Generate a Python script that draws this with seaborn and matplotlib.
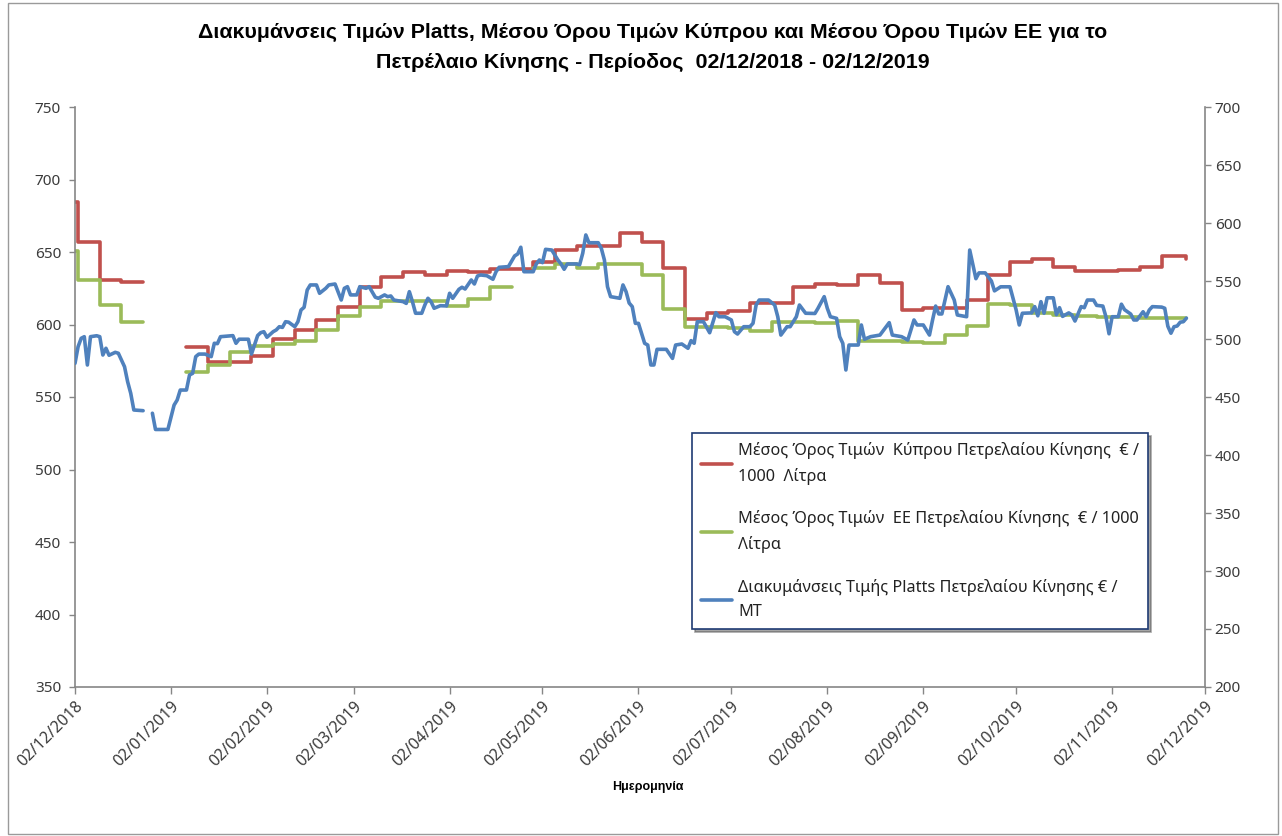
import pandas as pd
import seaborn as sns
import matplotlib.pyplot as plt
import matplotlib.dates as mdates
from matplotlib.lines import Line2D
from matplotlib.patches import Rectangle

# Weekly average prices (EUR / 1000 litres), value holds until the next date
red_dates = ['2018-12-02', '2018-12-03', '2018-12-10', '2018-12-17', '2018-12-24',
             '2019-01-07', '2019-01-14', '2019-01-21', '2019-01-28', '2019-02-04', '2019-02-11',
             '2019-02-18', '2019-02-25', '2019-03-04', '2019-03-11', '2019-03-18', '2019-03-25',
             '2019-04-01', '2019-04-08', '2019-04-15', '2019-04-22', '2019-04-29', '2019-05-06',
             '2019-05-13', '2019-05-20', '2019-05-27', '2019-06-03', '2019-06-10', '2019-06-17',
             '2019-06-24', '2019-07-01', '2019-07-08', '2019-07-15', '2019-07-22', '2019-07-29',
             '2019-08-05', '2019-08-12', '2019-08-19', '2019-08-26', '2019-09-02', '2019-09-09',
             '2019-09-16', '2019-09-23', '2019-09-30', '2019-10-07', '2019-10-14', '2019-10-21',
             '2019-10-28', '2019-11-04', '2019-11-11', '2019-11-18', '2019-11-25', '2019-11-26']
red_vals = [684.5, 657, 630.8, 629.5, 629.5,
            584.7, 574, 574, 578.5, 590, 596.5,
            603, 612.3, 626, 632.5, 636.4, 634.1,
            636.9, 636, 638.3, 638.5, 643.3, 651.4,
            654, 654, 662.9, 656.7, 638.7, 604,
            607.8, 609, 614.5, 614.5, 626, 628,
            627, 634.2, 628.5, 610.3, 611.5, 611.5,
            616.7, 634, 643.3, 645, 639.4, 637,
            637, 637.6, 639.9, 647, 647, 645.5]
red_breaks = ['2019-01-07']

green_dates = ['2018-12-02', '2018-12-03', '2018-12-10', '2018-12-17', '2018-12-24',
               '2019-01-07', '2019-01-14', '2019-01-21', '2019-01-28', '2019-02-04', '2019-02-11',
               '2019-02-18', '2019-02-25', '2019-03-04', '2019-03-11', '2019-03-18', '2019-03-25',
               '2019-04-01', '2019-04-08', '2019-04-15', '2019-04-22',
               '2019-04-29', '2019-05-06', '2019-05-13', '2019-05-20', '2019-05-27', '2019-06-03',
               '2019-06-10', '2019-06-17', '2019-06-24', '2019-07-01', '2019-07-08', '2019-07-15',
               '2019-07-22', '2019-07-29', '2019-08-05', '2019-08-12', '2019-08-19', '2019-08-26',
               '2019-09-02', '2019-09-09', '2019-09-16', '2019-09-23', '2019-09-30', '2019-10-07',
               '2019-10-14', '2019-10-21', '2019-10-28', '2019-11-04', '2019-11-11', '2019-11-18',
               '2019-11-25', '2019-11-26']
green_vals = [651, 630.7, 613.4, 601.5, 601.5,
              567.5, 572, 580.8, 584.9, 586.8, 588.4,
              596.2, 606.2, 612, 616.2, 616.2, 616.2,
              612.8, 617.5, 626.1, 626.1,
              638.7, 641.8, 638.7, 641.6, 641.6, 634.4,
              611, 598.5, 598.5, 597.5, 595.5, 601.8,
              601.8, 601.3, 602.2, 588.8, 588.8, 587.7,
              587, 592.8, 599, 614.2, 613.4, 607.7,
              606.6, 606, 605.4, 605, 604.8, 604.5,
              604.3, 604.3]
green_breaks = ['2019-01-07', '2019-04-29']

# Platts daily quotation (EUR / MT), right axis
blue_dates = ['2018-12-02', '2018-12-03', '2018-12-04', '2018-12-05', '2018-12-06', '2018-12-07',
              '2018-12-09', '2018-12-10', '2018-12-11', '2018-12-12', '2018-12-13', '2018-12-15',
              '2018-12-16', '2018-12-18', '2018-12-19', '2018-12-20', '2018-12-21', '2018-12-24',
              '2018-12-27', '2018-12-28', '2019-01-01', '2019-01-03', '2019-01-04', '2019-01-05',
              '2019-01-07', '2019-01-08', '2019-01-09', '2019-01-10', '2019-01-11', '2019-01-13',
              '2019-01-15', '2019-01-16', '2019-01-17', '2019-01-18', '2019-01-22', '2019-01-23',
              '2019-01-24', '2019-01-27', '2019-01-28', '2019-01-30', '2019-01-31', '2019-02-01',
              '2019-02-02', '2019-02-04', '2019-02-05', '2019-02-06', '2019-02-07', '2019-02-08',
              '2019-02-09', '2019-02-11', '2019-02-12', '2019-02-13', '2019-02-14', '2019-02-15',
              '2019-02-16', '2019-02-18', '2019-02-19', '2019-02-21', '2019-02-22', '2019-02-24',
              '2019-02-26', '2019-02-27', '2019-02-28', '2019-03-01', '2019-03-03', '2019-03-04',
              '2019-03-06', '2019-03-07', '2019-03-09', '2019-03-10', '2019-03-12', '2019-03-13',
              '2019-03-14', '2019-03-15', '2019-03-18', '2019-03-19', '2019-03-20', '2019-03-21',
              '2019-03-22', '2019-03-24', '2019-03-25', '2019-03-26', '2019-03-27', '2019-03-28',
              '2019-03-30', '2019-04-01', '2019-04-02', '2019-04-03', '2019-04-05', '2019-04-06',
              '2019-04-07', '2019-04-09', '2019-04-10', '2019-04-11', '2019-04-12', '2019-04-14',
              '2019-04-16', '2019-04-17', '2019-04-18', '2019-04-21', '2019-04-23', '2019-04-24',
              '2019-04-25', '2019-04-26', '2019-04-29', '2019-04-30', '2019-05-01', '2019-05-02',
              '2019-05-03', '2019-05-05', '2019-05-07', '2019-05-08', '2019-05-09', '2019-05-10',
              '2019-05-13', '2019-05-14', '2019-05-15', '2019-05-16', '2019-05-17', '2019-05-20',
              '2019-05-21', '2019-05-22', '2019-05-23', '2019-05-24', '2019-05-27', '2019-05-28',
              '2019-05-29', '2019-05-30', '2019-05-31', '2019-06-01', '2019-06-02', '2019-06-04',
              '2019-06-05', '2019-06-06', '2019-06-07', '2019-06-08', '2019-06-11', '2019-06-13',
              '2019-06-14', '2019-06-16', '2019-06-18', '2019-06-19', '2019-06-20', '2019-06-21',
              '2019-06-23', '2019-06-25', '2019-06-27', '2019-06-28', '2019-06-30', '2019-07-02',
              '2019-07-03', '2019-07-04', '2019-07-06', '2019-07-08', '2019-07-09', '2019-07-10',
              '2019-07-11', '2019-07-14', '2019-07-16', '2019-07-17', '2019-07-18', '2019-07-20',
              '2019-07-21', '2019-07-23', '2019-07-24', '2019-07-26', '2019-07-29', '2019-07-30',
              '2019-08-01', '2019-08-02', '2019-08-03', '2019-08-05', '2019-08-06', '2019-08-07',
              '2019-08-08', '2019-08-09', '2019-08-12', '2019-08-13', '2019-08-14', '2019-08-16',
              '2019-08-19', '2019-08-22', '2019-08-23', '2019-08-26', '2019-08-28', '2019-08-30',
              '2019-08-31', '2019-09-02', '2019-09-04', '2019-09-05', '2019-09-06', '2019-09-07',
              '2019-09-08', '2019-09-10', '2019-09-12', '2019-09-13', '2019-09-16', '2019-09-17',
              '2019-09-19', '2019-09-20', '2019-09-22', '2019-09-24', '2019-09-25', '2019-09-27',
              '2019-09-30', '2019-10-01', '2019-10-02', '2019-10-03', '2019-10-04', '2019-10-07',
              '2019-10-08', '2019-10-09', '2019-10-10', '2019-10-11', '2019-10-12', '2019-10-14',
              '2019-10-15', '2019-10-16', '2019-10-17', '2019-10-19', '2019-10-20', '2019-10-21',
              '2019-10-23', '2019-10-24', '2019-10-25', '2019-10-27', '2019-10-28', '2019-10-30',
              '2019-10-31', '2019-11-01', '2019-11-02', '2019-11-04', '2019-11-05', '2019-11-06',
              '2019-11-08', '2019-11-09', '2019-11-10', '2019-11-12', '2019-11-13', '2019-11-14',
              '2019-11-15', '2019-11-18', '2019-11-19', '2019-11-20', '2019-11-21', '2019-11-22',
              '2019-11-23', '2019-11-24', '2019-11-25', '2019-11-26']
blue_vals = [479, 493.4, 500.6, 502, 477.6, 502,
             502.8, 502, 486.2, 492, 486, 488.5,
             487.7, 476.1, 463.2, 453.2, 438.8, 438.2,
             436, 422, 422, 443, 447.4, 456,
             456, 469, 470.4, 484.8, 487, 487,
             484.8, 496.3, 496, 502, 502.9, 496.3,
             499.8, 499.8, 487, 503, 505.5, 506.3,
             501.5, 506.3, 507.8, 510.6, 510, 514.9,
             514.5, 510.6, 514.9, 525, 527.3, 542.2,
             546.6, 546.6, 539.4, 543.7, 546.6, 547.4,
             533.6, 543.7, 545.1, 538, 538, 545.1,
             543.7, 545.1, 536, 535.1, 538, 536.5,
             537.1, 533.6, 532.2, 530.7, 540.8, 532.2,
             522.2, 522.2, 529.3, 535.1, 532.2, 526.5,
             528.7, 528.5, 539.4, 535.1, 542.8, 544.6,
             543.1, 550.9, 547.4, 554.3, 555.2, 554.6,
             551.5, 558, 561.8, 562.4, 571.6, 573.3,
             579.1, 558, 558, 564.7, 568.1, 565.8,
             577.3, 576.7, 568, 564.7, 560.1, 564.7,
             564.7, 564, 573.9, 589.7, 583, 583,
             578.2, 568.1, 545.1, 536.5, 535.1, 546.6,
             540.8, 531, 527.9, 513.5, 513.5, 496.3,
             494.8, 477.6, 477.6, 491.1, 491.1, 483.3,
             494.8, 495.7, 492, 498.6, 496.3, 514.9,
             514.9, 505.4, 522.7, 519.2, 519.2, 516.4,
             506.3, 504.3, 510.6, 510.6, 513.5, 529.3,
             533.6, 533.6, 529.3, 519.2, 503.4, 510.6,
             510.6, 519.2, 529.3, 522.2, 522, 526.5,
             536.5, 526.5, 519.2, 517.8, 502, 496.3,
             473.3, 494.8, 494.8, 512.1, 499.8, 502,
             503.4, 514.1, 503.4, 502, 499.1, 516.4,
             512.1, 512.1, 503.4, 516.4, 528.4, 521.6,
             521.6, 545.1, 533.6, 520.7, 519.2, 576.7,
             552, 557, 557, 550, 541.5, 545,
             545, 535.1, 525, 512.1, 522.2, 522.5,
             527.9, 520, 532.2, 522.2, 535.5, 535.5,
             521, 527, 519.5, 522.5, 520.7, 515.5,
             527.9, 527, 533.6, 533.6, 529, 528.4,
             519.2, 504.5, 519.2, 519.2, 530, 525.3,
             521.5, 516.4, 516.4, 523.5, 519.2, 525,
             527.9, 527.5, 526.5, 511, 505, 510.6,
             511.2, 514.5, 514.9, 518]
blue_breaks = ['2018-12-27']

x_ticks = pd.date_range('2018-12-02', '2019-12-02', freq=pd.DateOffset(months=1))
labels = ['Μέσος Όρος Τιμών  Κύπρου Πετρελαίου Κίνησης  € /\n1000  Λίτρα',
          'Μέσος Όρος Τιμών  ΕΕ Πετρελαίου Κίνησης  € / 1000\nΛίτρα',
          'Διακυμάνσεις Τιμής Platts Πετρελαίου Κίνησης € /\nΜΤ']
title = ('Διακυμάνσεις Τιμών Platts, Μέσου Όρου Τιμών Κύπρου και Μέσου Όρου Τιμών ΕΕ για το\n'
         'Πετρέλαιο Κίνησης - Περίοδος  02/12/2018 - 02/12/2019')

RED, GREEN, BLUE = '#C0504D', '#9BBB59', '#4F81BD'
GRAY = '#868686'
TXT = '#3b3b3b'
BOLD_FONT = ['Liberation Sans', 'DejaVu Sans']


def to_frame(dates, vals, breaks):
    df = pd.DataFrame({'date': pd.to_datetime(dates), 'value': vals})
    df['segment'] = 0
    for b in breaks:
        df['segment'] += (df['date'] >= pd.Timestamp(b)).astype(int)
    return df


sns.set_theme(style='white')
plt.rcParams['font.family'] = ['Noto Sans', 'DejaVu Sans']

fig = plt.figure(figsize=(12.82, 8.36), dpi=100)
ax = fig.add_axes([75 / 1282, 1 - 687 / 836, 1130 / 1282, 580 / 836])
ax2 = ax.twinx()

sns.lineplot(data=to_frame(red_dates, red_vals, red_breaks), x='date', y='value',
             units='segment', estimator=None, color=RED, lw=2.6,
             drawstyle='steps-post', ax=ax, legend=False)
sns.lineplot(data=to_frame(green_dates, green_vals, green_breaks), x='date', y='value',
             units='segment', estimator=None, color=GREEN, lw=2.6,
             drawstyle='steps-post', ax=ax, legend=False)
sns.lineplot(data=to_frame(blue_dates, blue_vals, blue_breaks), x='date', y='value',
             units='segment', estimator=None, color=BLUE, lw=2.6, ax=ax2, legend=False)

ax.set_xlim(pd.Timestamp('2018-12-02'), pd.Timestamp('2019-12-02'))
ax.set_ylim(350, 750)
ax.set_yticks(range(350, 751, 50))
ax2.set_ylim(200, 700)
ax2.set_yticks(range(200, 701, 50))
ax.set_xticks(x_ticks)
ax.xaxis.set_major_formatter(mdates.DateFormatter('%d/%m/%Y'))
for a in (ax, ax2):
    a.set_xlabel('')
    a.set_ylabel('')
    a.spines['top'].set_visible(False)
    for s in ('left', 'right', 'bottom'):
        a.spines[s].set_color(GRAY)
        a.spines[s].set_linewidth(1.2)
ax.spines['right'].set_visible(False)
ax2.spines['left'].set_visible(False)
ax2.spines['bottom'].set_visible(False)

ax.tick_params(axis='y', left=True, length=4, width=1, color=GRAY, pad=6,
               labelsize=11, labelcolor=TXT)
ax2.tick_params(axis='y', right=True, length=4, width=1, color=GRAY, pad=3,
                labelsize=11, labelcolor=TXT)
ax.tick_params(axis='x', bottom=True, length=5, width=1, color=GRAY, pad=3,
               labelsize=11.5, labelcolor=TXT)
for lab in ax.get_xticklabels():
    lab.set_rotation(45)
    lab.set_ha('right')
    lab.set_va('top')
    lab.set_rotation_mode('anchor')

fig.text(0.509, 1 - 47.5 / 836, title, ha='center', va='center', fontsize=15.4,
         fontweight='bold', family=BOLD_FONT, linespacing=1.68, color='black')
fig.text(648 / 1282, 1 - 787 / 836, 'Ημερομηνία', ha='center', va='center',
         fontsize=9, fontweight='bold', family=BOLD_FONT, color='black')

handles = [Line2D([], [], color=c, lw=2.6) for c in (RED, GREEN, BLUE)]
leg = fig.legend(handles, labels, loc='upper left',
                 bbox_to_anchor=(692 / 1282, 1 - 433 / 836), fontsize=11.7,
                 frameon=True, fancybox=False, shadow=True, framealpha=1,
                 edgecolor='#1F3B73', borderpad=0.55, handlelength=1.9,
                 handletextpad=0.4, labelspacing=1.55, borderaxespad=0)
leg.get_frame().set_linewidth(1.2)
for t in leg.get_texts():
    t.set_linespacing(1.7)
    t.set_color('#222222')

fig.patches.append(Rectangle((8 / 1282, 2 / 836), 1270 / 1282, 831 / 836,
                             transform=fig.transFigure, fill=False,
                             edgecolor='#9a9a9a', lw=1))

fig.savefig('out.png', dpi=100)
